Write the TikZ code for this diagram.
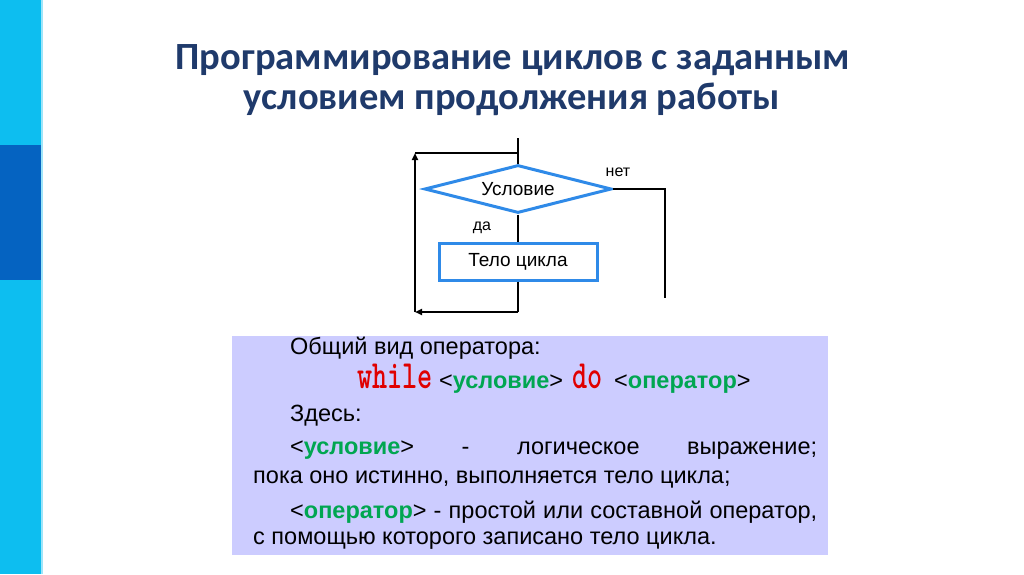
\documentclass[tikz,border=0pt]{standalone}
\usepackage{fontspec}
\setmainfont{Liberation Sans}
\newfontfamily\titlefont{Carlito}
\usetikzlibrary{arrows.meta,shapes.geometric}
\definecolor{barlight}{HTML}{0DBEF0}
\definecolor{bardark}{HTML}{0563C1}
\definecolor{titleblue}{HTML}{1F3A6B}
\definecolor{flowblue}{HTML}{2F8AE8}
\definecolor{boxbg}{HTML}{CCCCFF}
\definecolor{kwgreen}{HTML}{00A651}
\definecolor{kwred}{HTML}{E00000}
\newcommand\kwd[1]{{\color{kwred}\scalebox{0.72}[1]{\ttfamily\bfseries\fontsize{40}{40}\selectfont #1}}}
\newcommand\grn[1]{{\color{kwgreen}\bfseries #1}}
\tikzset{
  titletext/.style={font=\titlefont\bfseries\fontsize{38.5}{38.5}\selectfont, text=titleblue, anchor=base, inner sep=0},
  flowlabel/.style={font=\fontsize{16}{16}\selectfont, inner sep=0},
  cond/.style={draw=flowblue, line width=3pt, shape=diamond, aspect=3.9, minimum width=187pt, minimum height=48pt, inner sep=0, font=\fontsize{19}{19}\selectfont},
  body/.style={draw=flowblue, line width=3pt, minimum width=158pt, minimum height=37pt, inner sep=0, font=\fontsize{19}{19}\selectfont},
  wire/.style={line width=2pt, black},
  arr/.style={wire, -{Triangle[length=7pt,width=6pt]}},
  txt/.style={font=\fontsize{23.5}{23.5}\selectfont, anchor=base west, inner sep=0}
}
\begin{document}
\begin{tikzpicture}[x=1pt,y=-1pt]
\useasboundingbox (0,0) rectangle (1024,574);
\fill[white] (0,0) rectangle (1024,574);
% left bar
\fill[barlight] (0,0) rectangle (41,574);
\fill[bardark] (0,145) rectangle (41,280);
\fill[barlight!40] (41,0) rectangle (43,574);
% title
\node[titletext] (t1) at (513,69) {Программирование циклов с заданным};
\node[titletext] (t2) at (512,109) {условием продолжения работы};
% flowchart
\node[cond] (c) at (518,189) {Условие};
\node[body] (b) at (518,261.5) {Тело цикла};
\coordinate (top) at (518,138);
\coordinate (ret) at (518,153);
\coordinate (bl) at (415,312);
\coordinate (tl) at (415,153);
\coordinate (bb) at (518,312);
\coordinate (rt) at (665,189);
\coordinate (rb) at (665,298);
\draw[wire] (top) -- (c.north);
\draw[wire] (c.south) -- (b.north);
\draw[wire] (b.south) -- (bb);
\draw[arr] (bb) -- (bl);
\draw[arr] (bl) -- (tl);
\draw[wire] (tl) -- (ret);
\draw[wire] (c.east) -- (rt) -- (rb);
\node[flowlabel] (da) at (482,228) {да};
\node[flowlabel] (net) at (618,172) {нет};
% text box
\fill[boxbg] (232,336) rectangle (828,555);
\node[txt] (l1) at (290,354) {Общий вид оператора:};
\node[txt] (l2a) at (357,388) {\kwd{while}};
\node[txt] (l2b) at (439,388) {<\grn{условие}>};
\node[txt] (l2c) at (572,388) {\kwd{do}};
\node[txt] (l2d) at (614,388) {<\grn{оператор}>};
\node[txt] (l3) at (290,421) {Здесь:};
\node[txt] (l4) at (290,454) {\makebox[527pt][s]{<\grn{условие}> - логическое выражение;}};
\node[txt] (l5) at (253,483) {пока оно истинно, выполняется тело цикла;};
\node[txt] (l6) at (290,518) {\makebox[527pt][s]{<\grn{оператор}> - простой или составной оператор,}};
\node[txt] (l7) at (253,544) {с помощью которого записано тело цикла.};
\end{tikzpicture}
\end{document}
